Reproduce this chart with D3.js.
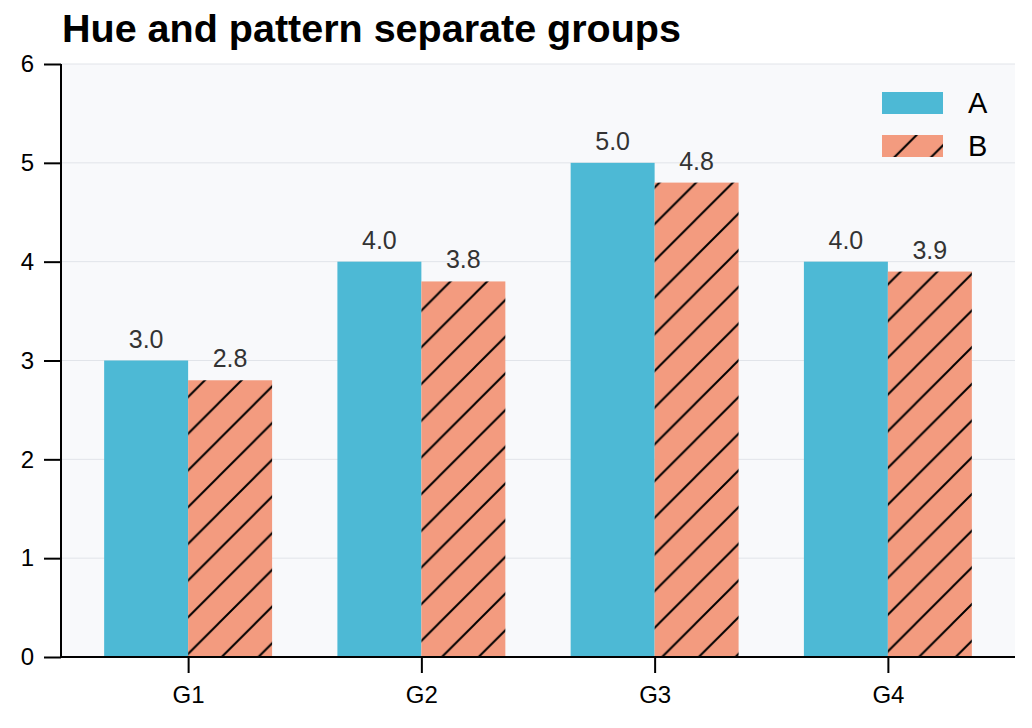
<!DOCTYPE html>
<html>
<head>
<meta charset="utf-8">
<script src="https://cdn.jsdelivr.net/npm/d3@7"></script>
<style>
  body { margin: 0; background: #ffffff; }
  svg text { font-family: "Liberation Sans", Arial, sans-serif; }
</style>
</head>
<body>
<div id="chart"></div>
<script>
"use strict";

// Chart data
const groups = ["G1", "G2", "G3", "G4"];
const seriesNames = ["A", "B"];
const valuesA = [3.0, 4.0, 5.0, 4.0];
const valuesB = [2.8, 3.8, 4.8, 3.9];
const yTicks = [0, 1, 2, 3, 4, 5, 6];

const width = 1032, height = 728;
const margin = {left: 61, right: 17, top: 64, bottom: 71};
const colors = {A: "#4db9d5", B: "#f39b7f"};

const svg = d3.select("#chart").append("svg")
    .attr("width", width)
    .attr("height", height);

// Hatch pattern for series B
const defs = svg.append("defs");
const hs = 36.7;
const pat = defs.append("pattern")
    .attr("id", "hatchB")
    .attr("patternUnits", "userSpaceOnUse")
    .attr("x", 34.6).attr("y", 0)
    .attr("width", hs).attr("height", hs);
pat.append("rect").attr("width", hs).attr("height", hs).attr("fill", colors.B);
pat.append("path")
    .attr("d", `M0,${hs} L${hs},0 M${-hs/2},${hs/2} L${hs/2},${-hs/2} M${hs/2},${hs*1.5} L${hs*1.5},${hs/2}`)
    .attr("stroke", "#000").attr("stroke-width", 2);

const plotW = width - margin.left - margin.right;
const plotH = height - margin.top - margin.bottom;

// x is continuous in group index, like the source
const x = d3.scaleLinear().domain([-0.545, 3.545]).range([margin.left, margin.left + plotW]);
const y = d3.scaleLinear().domain([0, 6]).range([margin.top + plotH, margin.top]);
const barW = 0.36;

// Plot background
svg.append("rect")
    .attr("x", margin.left).attr("y", margin.top)
    .attr("width", plotW).attr("height", plotH)
    .attr("fill", "#f8f9fb");

// Gridlines
svg.append("g").selectAll("line").data(yTicks).join("line")
    .attr("x1", margin.left).attr("x2", margin.left + plotW)
    .attr("y1", d => y(d)).attr("y2", d => y(d))
    .attr("stroke", "#e1e4e9").attr("stroke-width", 1);

// Bars
const series = [
    {name: "A", values: valuesA, offset: -barW / 2, fill: colors.A},
    {name: "B", values: valuesB, offset: barW / 2, fill: "url(#hatchB)"}
];

series.forEach(s => {
    svg.append("g").selectAll("rect").data(s.values).join("rect")
        .attr("x", (d, i) => x(i + s.offset - barW / 2))
        .attr("width", (d, i) => x(i + s.offset + barW / 2) - x(i + s.offset - barW / 2))
        .attr("y", d => y(d))
        .attr("height", d => y(0) - y(d))
        .attr("fill", s.fill);

    svg.append("g").selectAll("text").data(s.values).join("text")
        .attr("x", (d, i) => x(i + s.offset))
        .attr("y", d => y(d) - 13)
        .attr("text-anchor", "middle")
        .attr("font-size", 25)
        .attr("fill", "#333333")
        .text(d => d.toFixed(1));
});

// Axes
const yAxis = svg.append("g")
    .attr("transform", `translate(${margin.left},0)`)
    .call(d3.axisLeft(y).tickValues(yTicks).tickFormat(d3.format("d")).tickSize(17).tickPadding(10));
const xAxis = svg.append("g")
    .attr("transform", `translate(0,${margin.top + plotH})`)
    .call(d3.axisBottom(x).tickValues(d3.range(groups.length)).tickFormat(i => groups[i]).tickSize(16).tickPadding(13));

[yAxis, xAxis].forEach(ax => {
    ax.attr("font-size", 24);
    ax.select(".domain").attr("stroke", "#000").attr("stroke-width", 2);
    ax.selectAll(".tick line").attr("stroke", "#000").attr("stroke-width", 2);
    ax.selectAll(".tick text").attr("font-size", 24).attr("fill", "#000")
        .style("font-family", "'Liberation Sans', Arial, sans-serif");
});
yAxis.select(".domain").attr("d", `M0,${y(6)}V${y(0)}`);
xAxis.select(".domain").attr("d", `M${margin.left},0H${margin.left + plotW}`);

// Title
svg.append("text")
    .attr("x", 62).attr("y", 42)
    .attr("font-size", 39.5).attr("font-weight", "bold")
    .attr("fill", "#000")
    .text("Hue and pattern separate groups");

// Legend
const legend = svg.append("g").attr("transform", "translate(882,92)");
const legendFills = [colors.A, "url(#hatchB)"];
seriesNames.forEach((n, i) => {
    const g = legend.append("g").attr("transform", `translate(0,${i * 43})`);
    g.append("rect").attr("width", 61).attr("height", 22).attr("fill", legendFills[i]);
    g.append("text").attr("x", 86).attr("y", 11).attr("dy", "0.36em")
        .attr("font-size", 29).attr("fill", "#000").text(n);
});
</script>
</body>
</html>
